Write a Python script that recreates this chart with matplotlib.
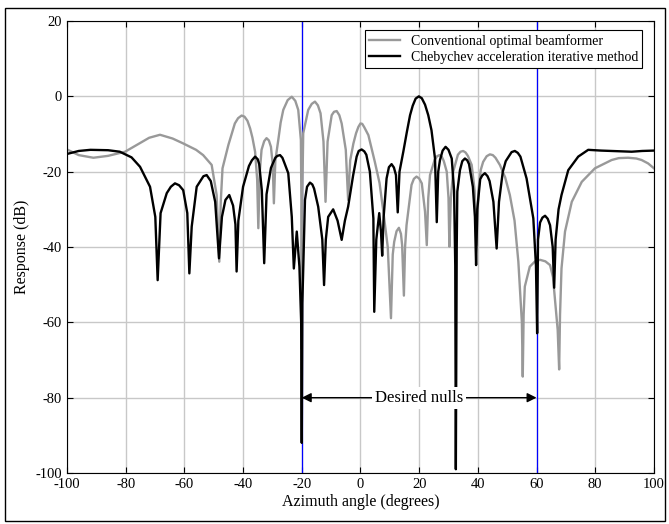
import matplotlib
matplotlib.use("Agg")
from matplotlib import pyplot as plt
from matplotlib.patches import Rectangle

plt.rcParams['font.family'] = ['Liberation Serif', 'DejaVu Serif']
plt.rcParams['axes.unicode_minus'] = False

# conventional optimal beamformer (gray)
conv_x = [-100, -96, -91, -86, -80.2, -76, -72, -68.3, -64, -60.4, -56, -53.6,
          -50.7, -49.0, -48.1, -47.6, -47.0, -45.0, -42.8, -41.7, -40.5, -39.5,
          -38.5, -37.6, -36.8, -35.9, -35.2, -34.8, -34.3, -33.7, -32.8, -32.0,
          -31.2, -30.5, -29.9, -29.5, -29.0, -28.0, -27.2, -26.3, -24.8, -23.4,
          -22.2, -21.2, -20.3, -20.1, -20.0, -19.9, -19.5, -17.8, -16.6, -15.5,
          -14.5, -13.6, -12.6, -11.9, -11.2, -9.8, -9.0, -8.1, -7.2, -6.4,
          -5.0, -4.2, -3.5, -2.4, -1.5, -0.7, 0.0, 0.6, 1.3, 2.7, 4.9, 6.5,
          7.8, 9.3, 10.4, 11.0, 11.5, 12.3, 13.1, 13.8, 14.2, 14.8, 15.2, 15.7,
          17.4, 18.2, 19.1, 20.0, 20.9, 22.0, 22.6, 23.1, 23.7, 25.3, 26.1,
          26.9, 27.7, 28.4, 29.4, 30.0, 30.3, 30.8, 31.6, 33.2, 34.1, 35.0,
          35.8, 36.6, 37.9, 38.9, 39.5, 40.2, 41.0, 41.8, 43.0, 44.1, 45.1,
          46.0, 47.5, 49.3, 50.9, 52.5, 53.8, 55.0, 55.3, 55.6, 56.0, 57.7,
          59.5, 61.2, 63.0, 64.6, 65.6, 66.3, 67.2, 67.7, 68.0, 68.5, 69.7,
          72.0, 75.4, 79.9, 85.6, 88.0, 91.2, 94.0, 95.8, 98.0, 100]
conv_db = [-14.1, -15.6, -16.3, -15.8, -14.7, -12.8, -11.0, -10.2, -11.2, -12.5,
           -14.2, -15.6, -18.2, -26.2, -43.9, -28.0, -19.1, -12.9, -7.2, -5.8,
           -5.1, -5.4, -6.5, -8.5, -11.0, -14.7, -22.0, -35.0, -20.0, -14.2,
           -11.9, -11.1, -11.7, -13.4, -18.0, -28.4, -17.0, -11.6, -7.0, -3.6,
           -1.0, -0.1, -1.2, -3.6, -11.6, -30.0, -67.0, -30.0, -9.8, -3.6,
           -2.0, -1.4, -2.4, -4.5, -12.0, -28.0, -12.0, -5.0, -4.1, -3.9, -5.0,
           -7.2, -14.2, -27.5, -17.0, -12.5, -9.8, -8.1, -7.2, -7.3, -8.2,
           -10.3, -17.4, -23.0, -30.6, -40.0, -58.9, -42.0, -38.6, -35.8,
           -34.9, -36.5, -39.5, -52.9, -40.0, -34.2, -23.5, -21.9, -21.3,
           -21.8, -23.1, -30.6, -39.5, -27.0, -20.9, -16.8, -15.9, -15.6,
           -16.0, -17.2, -20.0, -27.0, -39.9, -27.0, -20.0, -15.5, -14.7,
           -14.5, -14.9, -15.8, -18.2, -25.0, -39.5, -25.0, -19.5, -17.4,
           -15.9, -15.4, -15.6, -16.3, -18.2, -21.5, -26.2, -33.0, -43.9,
           -60.0, -74.4, -58.0, -50.5, -45.2, -43.8, -43.4, -43.8, -44.8,
           -48.0, -54.1, -62.0, -72.5, -58.0, -45.7, -35.9, -28.0, -22.7,
           -19.1, -16.9, -16.4, -16.3, -16.5, -16.9, -17.8, -19.1]

# Chebychev acceleration iterative method (black)
cheb_x = [-100, -96, -92, -86, -82, -78, -75.1, -71.7, -69.9, -69.1, -68.1, -66.0,
          -64.6, -63.2, -61.8, -60.4, -59.0, -58.3, -57.5, -55.8, -53.5, -52.4,
          -51.0, -49.5, -48.2, -47.2, -46.0, -44.7, -43.4, -42.6, -42.2, -41.6,
          -40.0, -38.0, -37.0, -35.9, -35.0, -34.5, -33.6, -32.8, -32.0, -30.5,
          -29.0, -28.3, -27.4, -26.6, -26.0, -24.6, -23.4, -22.7, -21.7, -20.8,
          -20.2, -20.0, -19.8, -18.9, -18.2, -17.2, -16.4, -15.8, -14.4, -13.0,
          -12.4, -11.8, -11.0, -9.3, -7.8, -6.4, -5.3, -4.2, -2.5, -1.3, -0.6,
          0.4, 1.3, 2.0, 3.2, 4.4, 4.7, 5.4, 6.4, 7.0, 7.4, 7.9, 8.9, 9.7,
          10.6, 11.4, 12.1, 12.7, 13.3, 14.6, 15.8, 16.9, 17.8, 18.8, 19.9,
          20.9, 22.0, 23.1, 24.2, 25.4, 26.0, 26.5, 27.1, 28.0, 29.0, 30.0,
          31.1, 31.9, 32.3, 32.5, 32.8, 33.0, 33.9, 34.7, 35.6, 36.4, 37.0,
          38.3, 39.0, 39.4, 39.8, 40.8, 41.5, 42.4, 43.3, 44.0, 45.3, 46.4,
          47.2, 48.5, 49.5, 51.5, 52.6, 53.6, 54.5, 56.6, 58.9, 59.8, 60.2,
          60.5, 61.2, 62.0, 62.9, 63.8, 64.6, 65.5, 66.0, 66.5, 67.5, 68.5,
          70.8, 74.2, 77.6, 82.0, 85.6, 92.4, 96.0, 100]
cheb_db = [-15.3, -14.5, -14.2, -14.3, -14.7, -16.2, -18.7, -24.0, -32.0, -48.8,
           -31.0, -25.7, -24.0, -23.1, -23.6, -24.9, -31.0, -47.0, -34.6, -24.0,
           -21.2, -20.9, -22.5, -28.0, -43.0, -32.0, -27.5, -26.2, -29.0, -34.0,
           -46.5, -33.0, -24.0, -18.5, -17.0, -16.0, -16.7, -18.0, -25.0, -44.3,
           -26.0, -19.0, -16.3, -15.8, -15.6, -16.3, -17.5, -20.4, -32.0, -45.7,
           -35.9, -45.2, -60.0, -92.0, -55.0, -27.5, -24.0, -22.9, -23.4, -24.5,
           -29.3, -38.0, -50.1, -38.0, -32.0, -30.0, -33.0, -38.1, -33.0, -29.3,
           -21.0, -16.0, -14.5, -14.1, -14.6, -15.5, -20.0, -32.4, -57.2, -38.0,
           -31.0, -36.0, -42.3, -32.0, -21.8, -18.8, -18.0, -18.9, -20.9, -30.8,
           -20.0, -14.7, -9.5, -5.0, -2.5, -0.6, 0.0, -0.5, -2.2, -5.0, -9.0,
           -16.5, -33.4, -20.0, -16.9, -14.4, -13.4, -14.2, -16.5, -25.0,
           -45.0, -99.0, -40.0, -25.3, -19.6, -17.2, -16.5, -17.0, -18.0,
           -24.0, -32.0, -44.8, -30.0, -22.0, -21.0, -20.4, -21.2, -22.5,
           -28.0, -40.4, -28.0, -20.0, -17.2, -14.8, -14.5, -15.0, -16.0,
           -21.8, -32.4, -45.0, -62.9, -38.0, -33.5, -32.2, -31.7, -32.5,
           -34.2, -40.0, -50.8, -38.0, -30.0, -26.2, -19.6, -16.0, -14.2,
           -14.4, -14.5, -14.7, -14.5, -14.4]

null_angles = [-20, 60]

fig = plt.figure(figsize=(6.69, 5.24), dpi=100)
ax = fig.add_axes([0.1001, 0.0973, 0.8774, 0.8626])

ax.grid(True, color='#c8c8c8', linewidth=1.0)
ax.set_axisbelow(True)

for a in null_angles:
    ax.axvline(a, color='blue', linewidth=0.9, zorder=1)

ax.plot(conv_x, conv_db, color='#999999', linewidth=1.7,
        label='Conventional optimal beamformer', zorder=2)
ax.plot(cheb_x, cheb_db, color='black', linewidth=1.7,
        label='Chebychev acceleration iterative method', zorder=3)

ax.annotate('', xy=(null_angles[0], -80), xytext=(null_angles[1], -80),
            arrowprops=dict(arrowstyle='<|-|>', color='black', lw=1.0,
                            shrinkA=0, shrinkB=0, mutation_scale=14), zorder=4)
ax.text(20, -80, 'Desired nulls', ha='center', va='center', fontsize=12,
        bbox=dict(facecolor='white', edgecolor='none', pad=2), zorder=5)

ax.set_xlim(-100, 100)
ax.set_ylim(-100, 20)
ax.set_xticks(range(-100, 101, 20))
ax.set_yticks(range(-100, 21, 20))
ax.tick_params(direction='in', top=True, right=True, labelsize=10.5, length=4)
ax.set_xlabel('Azimuth angle (degrees)', fontsize=11.5, labelpad=2)
ax.set_ylabel('Response (dB)', fontsize=11.5, labelpad=4)

leg = ax.legend(loc='upper right', bbox_to_anchor=(0.98, 0.98), borderaxespad=0,
                fancybox=False, edgecolor='black', framealpha=1, fontsize=10,
                handlelength=2.2, borderpad=0.3, labelspacing=0.2)
leg.get_frame().set_linewidth(0.8)

fig.patches.append(Rectangle((5 / 669, 3 / 524), 660 / 669, 513 / 524,
                             transform=fig.transFigure, fill=False,
                             edgecolor='black', linewidth=1.0))

fig.savefig('out.png', dpi=100)
